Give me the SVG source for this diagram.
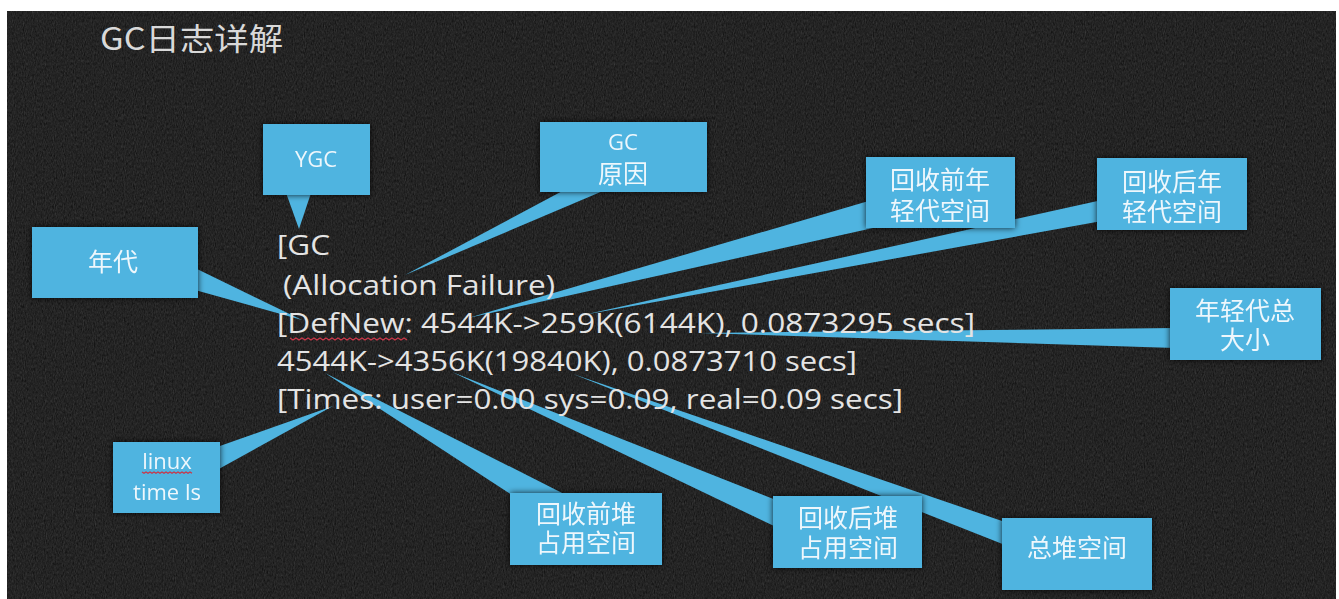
<svg xmlns="http://www.w3.org/2000/svg" width="1339" height="599" viewBox="0 0 1339 599">
  <defs>
    <filter id="grain" x="0" y="0" width="100%" height="100%">
      <feTurbulence type="fractalNoise" baseFrequency="0.9 0.35" numOctaves="3" seed="7" result="n"/>
      <feColorMatrix type="matrix" values="0 0 0 0 1  0 0 0 0 1  0 0 0 0 1  0.35 0.35 0.35 0 -0.3" in="n"/>
    </filter>
    <filter id="halo" x="-20%" y="-20%" width="140%" height="140%">
      <feDropShadow dx="0" dy="0" stdDeviation="3" flood-color="#000" flood-opacity="0.8"/>
    </filter>
    <style>
      .board { fill: #141414; }
      .box { fill: #4fb4e0; }
      .wedge { fill: #4fb4e0; }
      .label { font-family: "Liberation Sans", "Noto Sans CJK SC", sans-serif; font-size: 25px; fill: #eef7fc; text-anchor: middle; }
      .latin { font-family: "Open Sans", "Noto Sans", sans-serif; font-size: 22px; fill: #eef7fc; text-anchor: middle; }
      .log { font-family: "Open Sans", "Noto Sans", sans-serif; font-size: 28px; fill: #e4e4e4; }
      .title { font-family: "Noto Sans CJK SC", "Noto Sans", sans-serif; font-size: 31px; fill: #d9d9d9; }
      .squiggle { fill: none; stroke: #c8384a; stroke-width: 1.3; }
    </style>
  </defs>

  <!-- page and chalkboard -->
  <rect x="0" y="0" width="1339" height="599" fill="#ffffff"/>
  <rect class="board" x="7" y="11" width="1329" height="588"/>
  <rect x="7" y="11" width="1329" height="588" filter="url(#grain)" opacity="0.3"/>

  <text class="title" x="100" y="50" textLength="183" lengthAdjust="spacingAndGlyphs">GC日志详解</text>

  <!-- callout pointers -->
  <g id="connectors">
    <polygon class="wedge" points="299,229 285,190 312,190"/>
    <polygon class="wedge" points="405,275 568,188 610,188"/>
    <polygon class="wedge" points="468,318 872,200 882,226"/>
    <polygon class="wedge" points="583,315 1102,200 1102,221"/>
    <polygon class="wedge" points="700,333 1175,328 1175,348"/>
    <polygon class="wedge" points="302,320 195,268 195,290"/>
    <polygon class="wedge" points="333,406 217,447 217,470"/>
    <polygon class="wedge" points="325,373 515,497 570,497"/>
    <polygon class="wedge" points="452,372 776,500 776,527"/>
    <polygon class="wedge" points="573,374 1005,522 1005,545"/>
  </g>

  <!-- GC log lines -->
  <g id="log">
    <text class="log" x="277" y="255" textLength="53" lengthAdjust="spacingAndGlyphs">[GC</text>
    <text class="log" x="283" y="295" textLength="272" lengthAdjust="spacingAndGlyphs">(Allocation Failure)</text>
    <text class="log" x="277" y="333" textLength="698" lengthAdjust="spacingAndGlyphs">[DefNew: 4544K-&gt;259K(6144K), 0.0873295 secs]</text>
    <text class="log" x="277" y="371" textLength="580" lengthAdjust="spacingAndGlyphs">4544K-&gt;4356K(19840K), 0.0873710 secs]</text>
    <text class="log" x="277" y="409" textLength="626" lengthAdjust="spacingAndGlyphs">[Times: user=0.00 sys=0.09, real=0.09 secs]</text>
    <path class="squiggle" d="M290,338 l3,2 l3,-2 l3,2 l3,-2 l3,2 l3,-2 l3,2 l3,-2 l3,2 l3,-2 l3,2 l3,-2 l3,2 l3,-2 l3,2 l3,-2 l3,2 l3,-2 l3,2 l3,-2 l3,2 l3,-2 l3,2 l3,-2 l3,2 l3,-2 l3,2 l3,-2 l3,2 l3,-2 l3,2 l3,-2 l3,2 l3,-2 l3,2 l3,-2 l3,2 l3,-2 l3,2"/>
  </g>

  <g id="ygc" filter="url(#halo)">
    <rect class="box" x="263" y="124" width="107" height="71"/>
    <text class="latin" x="316" y="167">YGC</text>
  </g>

  <g id="gc-cause" filter="url(#halo)">
    <rect class="box" x="540" y="122" width="167" height="70"/>
    <text class="latin" x="623" y="150">GC<tspan class="label" x="623" dy="33">原因</tspan></text>
  </g>

  <g id="young-before" filter="url(#halo)">
    <rect class="box" x="866" y="157" width="149" height="71"/>
    <text class="label" x="940" y="189">回收前年<tspan x="940" dy="31">轻代空间</tspan></text>
  </g>

  <g id="young-after" filter="url(#halo)">
    <rect class="box" x="1097" y="158" width="150" height="72"/>
    <text class="label" x="1172" y="191">回收后年<tspan x="1172" dy="30">轻代空间</tspan></text>
  </g>

  <g id="young-total" filter="url(#halo)">
    <rect class="box" x="1170" y="288" width="151" height="72"/>
    <text class="label" x="1245" y="320">年轻代总<tspan x="1245" dy="29">大小</tspan></text>
  </g>

  <g id="generation" filter="url(#halo)">
    <rect class="box" x="32" y="227" width="166" height="71"/>
    <text class="label" x="113" y="271">年代</text>
  </g>

  <g id="linux-time" filter="url(#halo)">
    <rect class="box" x="113" y="442" width="107" height="71"/>
    <text class="latin" x="167" y="469">linux<tspan x="167" dy="31">time ls</tspan></text>
    <path class="squiggle" d="M142,472 l2,1.3 l2,-1.3 l2,1.3 l2,-1.3 l2,1.3 l2,-1.3 l2,1.3 l2,-1.3 l2,1.3 l2,-1.3 l2,1.3 l2,-1.3 l2,1.3 l2,-1.3 l2,1.3 l2,-1.3 l2,1.3 l2,-1.3 l2,1.3 l2,-1.3 l2,1.3 l2,-1.3 l2,1.3 l2,-1.3 l2,1.3"/>
  </g>

  <g id="heap-before" filter="url(#halo)">
    <rect class="box" x="510" y="493" width="152" height="72"/>
    <text class="label" x="586" y="523">回收前堆<tspan x="586" dy="29">占用空间</tspan></text>
  </g>

  <g id="heap-after" filter="url(#halo)">
    <rect class="box" x="773" y="496" width="149" height="72"/>
    <text class="label" x="848" y="527">回收后堆<tspan x="848" dy="30">占用空间</tspan></text>
  </g>

  <g id="heap-total" filter="url(#halo)">
    <rect class="box" x="1002" y="518" width="150" height="72"/>
    <text class="label" x="1077" y="557">总堆空间</text>
  </g>
</svg>
